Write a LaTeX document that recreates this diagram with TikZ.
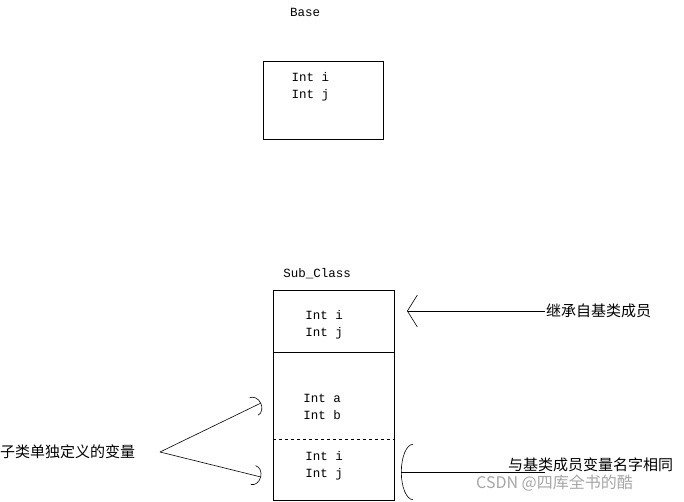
\documentclass[tikz,border=0pt]{standalone}
\usepackage{fontspec}
\setmonofont{Liberation Mono}
\newfontfamily\cjk{Noto Sans CJK SC}
\usetikzlibrary{arrows.meta}
\begin{document}
\begin{tikzpicture}[x=1pt,y=-1pt,
  lbl/.style={font=\ttfamily\fontsize{12.5}{17}\selectfont,align=center},
  cn/.style={font=\cjk\fontsize{15}{17}\selectfont},
  con/.style={draw,line width=0.6pt}]
\useasboundingbox (0,0) rectangle (684,501);
\node[draw,minimum width=120pt,minimum height=78pt,anchor=north west] (base) at (263,61) {};
\node[lbl,anchor=north west] (bt) at (288,69) {Int i\\Int j};
\node[lbl] (bn) at (305,12) {Base};
\node[lbl] (sn) at (317,274) {Sub\_Class};
\draw (273,290) rectangle (394,500);
\draw (273,352) -- (394,352);
\draw[dashed] (273,439) -- (394,439);
\node[lbl] (s1) at (324,325) {Int i\\Int j};
\node[lbl] (s2) at (322,407) {Int a\\Int b};
\node[lbl] (s3) at (324,466) {Int i\\Int j};
\coordinate (t1) at (407,311);
\coordinate (t2) at (401,472);
\coordinate (l1) at (261,403);
\coordinate (l2) at (261,477);
\node[cn,anchor=west,inner sep=1pt] (c1) at (545,311) {继承自基类成员};
\node[cn,anchor=west,inner sep=0pt] (c2) at (508,465) {与基类成员变量名字相同};
\node[cn,anchor=west,inner sep=0pt] (c3) at (0,452) {子类单独定义的变量};
\coordinate (lp) at (160,452);
\draw[con,-{Straight Barb[length=10pt,width=32pt]}] (c1.west) -- (t1);
\draw[con,-{Arc Barb[length=12pt,width=56pt]}] (545,472) -- (t2);
\draw[con,-{Arc Barb[length=8pt,width=20pt]}] (lp) -- (l1);
\draw[con,-{Arc Barb[length=8pt,width=20pt]}] (lp) -- (l2);
\node[font=\fontspec{Noto Sans CJK SC}\fontsize{16}{18}\selectfont,text=gray!70,anchor=west,inner sep=0pt] (wm) at (476,483) {CSDN @四库全书的酷};
\end{tikzpicture}
\end{document}
